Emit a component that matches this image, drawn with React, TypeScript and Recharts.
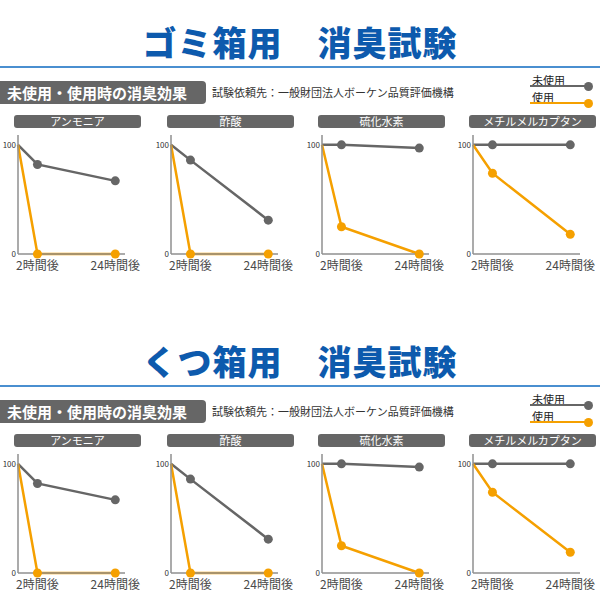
import React from 'react';
import { LineChart, Line, XAxis, YAxis } from 'recharts';

// ---- data ----
const sectionTitles = ['ゴミ箱用　消臭試験', 'くつ箱用　消臭試験'];
const headerLabel = '未使用・使用時の消臭効果';
const sourceLabel = '試験依頼先：一般財団法人ボーケン品質評価機構';
const legendLabels = ['未使用', '使用'];
const gasNames = ['アンモニア', '酢酸', '硫化水素', 'メチルメルカプタン'];

const xPoints = [0, 1, 5];
const xTickValues = [1, 5];
const xTickLabels = ['2時間後', '24時間後'];
const yTickValues = [0, 100];

// ゴミ箱用
const trashAmmoniaUnused = [100, 82, 67];
const trashAmmoniaUsed = [100, 0, 0];
const trashAceticUnused = [100, 86, 31];
const trashAceticUsed = [100, 0, 0];
const trashH2sUnused = [100, 100, 97];
const trashH2sUsed = [100, 25, 0];
const trashMethylUnused = [100, 100, 100];
const trashMethylUsed = [100, 74, 18];

// くつ箱用
const shoeAmmoniaUnused = [100, 82, 67];
const shoeAmmoniaUsed = [100, 0, 0];
const shoeAceticUnused = [100, 86, 31];
const shoeAceticUsed = [100, 0, 0];
const shoeH2sUnused = [100, 100, 97];
const shoeH2sUsed = [100, 25, 0];
const shoeMethylUnused = [100, 100, 100];
const shoeMethylUsed = [100, 74, 19];

const sections = [
  {
    title: sectionTitles[0],
    unused: [trashAmmoniaUnused, trashAceticUnused, trashH2sUnused, trashMethylUnused],
    used: [trashAmmoniaUsed, trashAceticUsed, trashH2sUsed, trashMethylUsed],
  },
  {
    title: sectionTitles[1],
    unused: [shoeAmmoniaUnused, shoeAceticUnused, shoeH2sUnused, shoeMethylUnused],
    used: [shoeAmmoniaUsed, shoeAceticUsed, shoeH2sUsed, shoeMethylUsed],
  },
];

// ---- styles ----
const FONT = '"Noto Sans CJK JP", "Noto Sans", sans-serif';
const GRAY = '#666666';
const ORANGE = '#f5a000';
const BLUE = '#0d5aad';
const AXIS = '#8f8f8f';
const SECTION_OFFSET = 319;
const AXIS_X = [18, 171, 322, 473];

const makeDot = (color: string) => (props: any) => {
  const { cx, cy, index } = props;
  if (index === 0 || cx == null || cy == null) return <g key={`d-${index}`} />;
  return <circle key={`d-${index}`} cx={cx} cy={cy} r={4.5} fill={color} stroke="none" />;
};

function Panel({ name, unused, used, axisX, top }: any) {
  const rows = xPoints.map((x, i) => ({ x, unused: unused[i], used: used[i] }));
  return (
    <>
      <div
        style={{
          position: 'absolute',
          left: axisX - 4,
          top: top + 115,
          width: 127,
          height: 13,
          background: GRAY,
          borderRadius: 3,
          color: '#fff',
          fontSize: 11,
          lineHeight: '13px',
          textAlign: 'center',
          fontFamily: FONT,
        }}
      >
        {name}
      </div>
      <div style={{ position: 'absolute', left: axisX - 18, top: top + 130 }}>
        <LineChart width={150} height={150} data={rows} margin={{ top: 5, right: 25, left: 0, bottom: 0 }}>
          <XAxis
            dataKey="x"
            type="number"
            domain={[0, 5.5]}
            ticks={xTickValues}
            interval={0}
            tickFormatter={(v: number) => xTickLabels[xTickValues.indexOf(v)] ?? ''}
            axisLine={{ stroke: AXIS, strokeWidth: 1.5 }}
            tickLine={false}
            tickSize={3}
            tickMargin={4}
            height={26}
            tick={{ fontSize: 12, fill: '#4a4a4a', fontFamily: FONT }}
          />
          <YAxis
            type="number"
            domain={[0, 109]}
            ticks={yTickValues}
            interval={0}
            width={18}
            axisLine={{ stroke: AXIS, strokeWidth: 1.5 }}
            tickLine={false}
            tickSize={1}
            tickMargin={1}
            tick={{ fontSize: 8, fill: '#333', fontFamily: FONT }}
          />
          <Line
            dataKey="unused"
            type="linear"
            stroke={GRAY}
            strokeWidth={2.5}
            dot={makeDot(GRAY)}
            activeDot={false}
            isAnimationActive={false}
          />
          <Line
            dataKey="used"
            type="linear"
            stroke={ORANGE}
            strokeWidth={2.5}
            dot={makeDot(ORANGE)}
            activeDot={false}
            isAnimationActive={false}
          />
        </LineChart>
      </div>
    </>
  );
}

function Section({ sec, top }: any) {
  return (
    <>
      <div
        style={{
          position: 'absolute',
          left: 0,
          width: 600,
          top: top + 24,
          height: 35,
          lineHeight: '35px',
          textAlign: 'center',
          fontSize: 34,
          fontWeight: 900,
          letterSpacing: 1,
          color: BLUE,
          fontFamily: FONT,
          whiteSpace: 'pre',
        }}
      >
        {sec.title}
      </div>
      <div style={{ position: 'absolute', left: 0, top: top + 66, width: 600, height: 2, background: '#4a8fd0' }} />
      <div
        style={{
          position: 'absolute',
          left: 0,
          top: top + 81,
          width: 206,
          height: 23,
          background: GRAY,
          borderRadius: '0 4px 4px 0',
          color: '#fff',
          fontSize: 15,
          fontWeight: 'bold',
          lineHeight: '23px',
          paddingLeft: 7,
          boxSizing: 'border-box',
          fontFamily: FONT,
          whiteSpace: 'nowrap',
        }}
      >
        {headerLabel}
      </div>
      <div
        style={{
          position: 'absolute',
          left: 212,
          top: top + 84,
          fontSize: 11,
          lineHeight: '16px',
          color: '#333',
          fontFamily: FONT,
          whiteSpace: 'nowrap',
        }}
      >
        {sourceLabel}
      </div>
      {/* legend */}
      {legendLabels.map((lab, i) => {
        const color = i === 0 ? GRAY : ORANGE;
        const ly = top + 86 + i * 17;
        return (
          <React.Fragment key={lab}>
            <div
              style={{
                position: 'absolute',
                left: 532,
                top: ly - 12,
                fontSize: 11,
                lineHeight: '12px',
                color: '#222',
                fontFamily: FONT,
              }}
            >
              {lab}
            </div>
            <div style={{ position: 'absolute', left: 530, top: ly - 1, width: 58, height: 2, background: color }} />
            <div
              style={{
                position: 'absolute',
                left: 584,
                top: ly - 4.5,
                width: 9,
                height: 9,
                borderRadius: '50%',
                background: color,
              }}
            />
          </React.Fragment>
        );
      })}
      {gasNames.map((g, i) => (
        <Panel key={g} name={g} unused={sec.unused[i]} used={sec.used[i]} axisX={AXIS_X[i]} top={top} />
      ))}
    </>
  );
}

export default function App() {
  return (
    <div
      style={{
        position: 'absolute',
        left: 0,
        top: 0,
        width: 600,
        height: 600,
        background: '#fff',
        overflow: 'hidden',
        fontFamily: FONT,
      }}
    >
      {sections.map((s, i) => (
        <Section key={s.title} sec={s} top={i * SECTION_OFFSET} />
      ))}
    </div>
  );
}
